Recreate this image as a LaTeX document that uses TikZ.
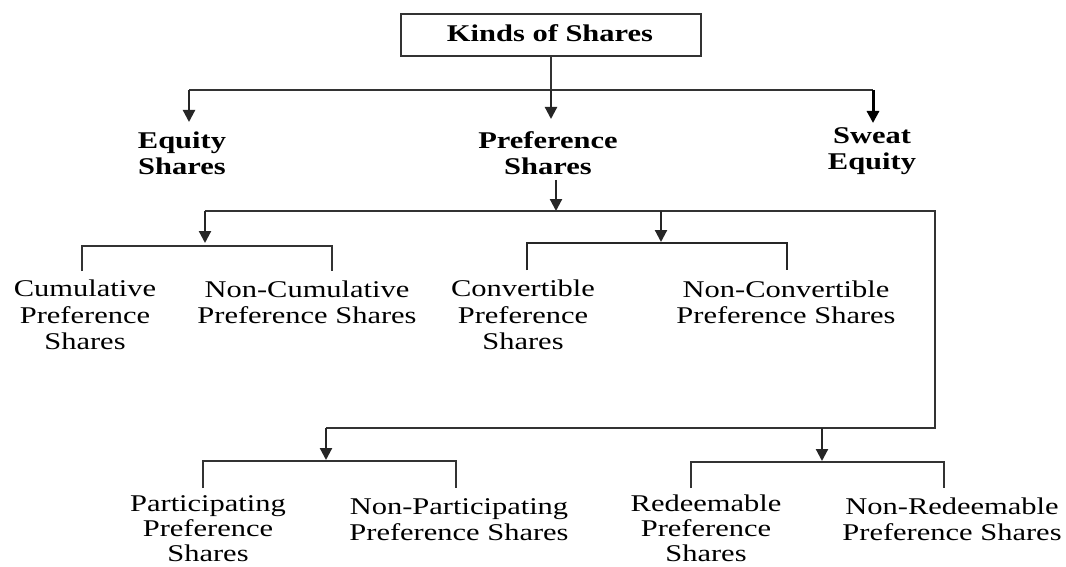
\documentclass[tikz,border=0pt]{standalone}
\usepackage{fontspec}
\setmainfont{Liberation Serif}
\usepackage{graphicx}
\usetikzlibrary{arrows.meta}
\newcommand\lbl[1]{\scalebox{1.27}[1]{\begin{tabular}{@{}c@{}}#1\end{tabular}}}
\begin{document}
\begin{tikzpicture}[x=1pt,y=-1pt,
  txt/.style={inner sep=0pt,font=\fontsize{24}{26.5}\selectfont},
  txtb/.style={inner sep=0pt,font=\fontsize{24}{25}\selectfont},
  btxt/.style={inner sep=0pt,font=\fontsize{24}{26}\selectfont\bfseries},
  ln/.style={draw=black!80,line width=1.4pt},
  thk/.style={draw=black!85,line width=2.2pt},
  arr/.style={draw=black!85,line width=2.2pt,-{Triangle[length=12pt,width=12pt]}},
  arrb/.style={draw=black,line width=3pt,-{Triangle[length=12pt,width=12pt]}},
  boxst/.style={draw=black!80,line width=1.4pt,minimum width=300pt,minimum height=42pt,inner sep=0pt}]
\useasboundingbox (0,0) rectangle (1066,567);
\fill[white] (0,0) rectangle (1066,567);

% nodes
\node[boxst] (top) at (551,35) {};
\node[btxt] (kinds) at (550,36) {\lbl{Kinds of Shares}};
\node[btxt] (eq) at (182,156) {\lbl{Equity\\Shares}};
\node[btxt] (pref) at (548,156) {\lbl{Preference\\Shares}};
\node[btxt] (sweat) at (872,151) {\lbl{Sweat\\Equity}};

\node[txt] (cum) at (85,318) {\lbl{Cumulative\\Preference\\Shares}};
\node[txt] (ncum) at (307,305) {\lbl{Non-Cumulative\\Preference Shares}};
\node[txt] (conv) at (523,318) {\lbl{Convertible\\Preference\\Shares}};
\node[txt] (nconv) at (786,305) {\lbl{Non-Convertible\\Preference Shares}};
\node[txtb] (part) at (208,531) {\lbl{Participating\\Preference\\Shares}};
\node[txt] (npart) at (459,522) {\lbl{Non-Participating\\Preference Shares}};
\node[txtb] (red) at (706,531) {\lbl{Redeemable\\Preference\\Shares}};
\node[txt] (nred) at (952,522) {\lbl{Non-Redeemable\\Preference Shares}};

% junction coordinates
\coordinate (hL) at (189,90);
\coordinate (hR) at (873,90);
\coordinate (tEq) at (189,122);
\coordinate (tPref) at (551,119);
\coordinate (tSw) at (873,123);
\coordinate (p1) at (556,180);
\coordinate (p2) at (556,211);
\coordinate (aL) at (205,211);
\coordinate (aM) at (661,211);
\coordinate (aR) at (935,211);
\coordinate (bR) at (935,428);
\coordinate (bL) at (326,428);
\coordinate (bM) at (822,428);
\coordinate (tA) at (205,243);
\coordinate (tB) at (661,242);
\coordinate (tC) at (326,460);
\coordinate (tD) at (822,461);

% level 1
\draw[ln] (top.south) -- (top.south |- hL);
\draw[ln] (hL) -- (hR);
\draw[arr] (hL) -- (tEq);
\draw[arr] (top.south |- hL) -- (tPref);
\draw[arrb] (hR) -- (tSw);

% level 2
\draw[arr] (p1) -- (p2);
\draw[ln] (aL) -- (aR) -- (bR) -- (bL);
\draw[arr] (aL) -- (tA);
\draw[arr] (aM) -- (tB);
\draw[arr] (bL) -- (tC);
\draw[arr] (bM) -- (tD);

% brackets
\draw[ln] (82,271) -- (82,246) -- (332,246) -- (332,271);
\draw[thk] (527,270) -- (527,243) -- (787,243) -- (787,270);
\draw[ln] (203,488) -- (203,461) -- (456,461) -- (456,488);
\draw[ln] (691,488) -- (691,462) -- (944,462) -- (944,488);
\end{tikzpicture}
\end{document}
